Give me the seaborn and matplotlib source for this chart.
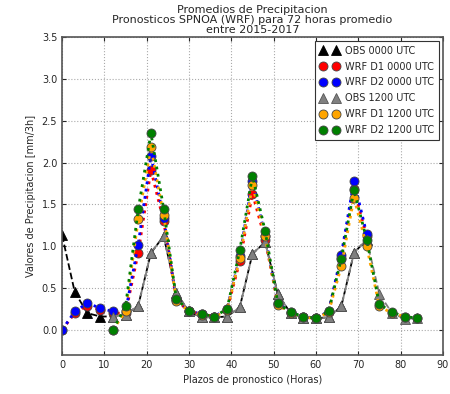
import numpy as np
import pandas as pd
import matplotlib
matplotlib.use("Agg")
import matplotlib.pyplot as plt
import seaborn as sns

# forecast lead times (hours)
horas_00 = list(range(0, 73, 3))
horas_12 = list(range(12, 85, 3))

obs_00 = [1.13, 0.45, 0.20, 0.16, 0.16, 0.18, 0.29, 0.92, 1.12, 0.44, 0.22, 0.15, 0.15,
          0.16, 0.27, 0.91, 1.05, 0.43, 0.20, 0.14, 0.14, 0.15, 0.28, 0.92, 1.08]
wrf_d1_00 = [0.00, 0.20, 0.29, 0.24, 0.20, 0.20, 0.92, 1.91, 1.30, 0.36, 0.22, 0.19, 0.16,
             0.24, 0.82, 1.63, 1.08, 0.31, 0.20, 0.16, 0.14, 0.21, 0.86, 1.68, 1.12]
wrf_d2_00 = [0.00, 0.22, 0.32, 0.26, 0.22, 0.22, 1.02, 2.08, 1.34, 0.37, 0.22, 0.19, 0.16,
             0.25, 0.88, 1.78, 1.12, 0.32, 0.21, 0.16, 0.14, 0.22, 0.90, 1.78, 1.15]
obs_12 = [0.16, 0.18, 0.29, 0.92, 1.12, 0.44, 0.22, 0.15, 0.15, 0.16, 0.27, 0.91, 1.05,
          0.43, 0.20, 0.14, 0.14, 0.15, 0.28, 0.92, 1.08, 0.43, 0.20, 0.13, 0.14]
wrf_d1_12 = [0.00, 0.22, 1.32, 2.18, 1.37, 0.35, 0.22, 0.18, 0.15, 0.24, 0.86, 1.73, 1.12,
             0.30, 0.20, 0.15, 0.14, 0.21, 0.76, 1.58, 1.00, 0.28, 0.20, 0.16, 0.14]
wrf_d2_12 = [0.00, 0.28, 1.44, 2.35, 1.45, 0.37, 0.23, 0.19, 0.16, 0.25, 0.95, 1.84, 1.18,
             0.32, 0.21, 0.16, 0.14, 0.22, 0.85, 1.67, 1.08, 0.31, 0.21, 0.16, 0.14]

sns.set_style("ticks")
plt.rcParams['font.family'] = ['DejaVu Sans']

fig = plt.figure(figsize=(4.5, 3.94), dpi=100)
ax = fig.add_axes([0.138, 0.099, 0.846, 0.807])

series = [
    ("OBS 0000 UTC", horas_00, obs_00, dict(color='black', marker='^', linestyle='--', mec='black')),
    ("WRF D1 0000 UTC", horas_00, wrf_d1_00, dict(color='red', marker='o', linestyle=':', mec='#444444')),
    ("WRF D2 0000 UTC", horas_00, wrf_d2_00, dict(color='blue', marker='o', linestyle=':', mec='#444444')),
    ("OBS 1200 UTC", horas_12, obs_12, dict(color='gray', marker='^', linestyle='--', mec='#555555')),
    ("WRF D1 1200 UTC", horas_12, wrf_d1_12, dict(color='orange', marker='o', linestyle=':', mec='#444444')),
    ("WRF D2 1200 UTC", horas_12, wrf_d2_12, dict(color='green', marker='o', linestyle=':', mec='#444444')),
]

for name, xs, ys, st in series:
    df = pd.DataFrame({'hora': xs, 'valor': ys})
    lw = 1.3 if 'OBS' in name else 2.0
    sns.lineplot(data=df, x='hora', y='valor', ax=ax, label=name, sort=False,
                 linewidth=lw, markersize=6.5, markeredgewidth=0.6, **st)

ax.set_xlim(0, 90)
ax.set_ylim(-0.3, 3.5)
ax.set_xticks(np.arange(0, 91, 10))
ax.set_yticks(np.arange(0, 3.51, 0.5))
ax.grid(True, linestyle=':', color='#aaaaaa', linewidth=0.8)
ax.tick_params(direction='in', top=True, right=True, labelsize=7, length=3)
for sp in ax.spines.values():
    sp.set_color('#555555')
    sp.set_linewidth(1.2)

ax.set_xlabel("Plazos de pronostico (Horas)", fontsize=7)
ax.set_ylabel("Valores de Precipitacion [mm/3h]", fontsize=7)
ax.set_title("Promedios de Precipitacion\nPronosticos SPNOA (WRF) para 72 horas promedio\nentre 2015-2017",
             fontsize=8, linespacing=1.0, pad=3)

leg = ax.legend(loc='upper right', numpoints=2, fontsize=7, fancybox=False,
                edgecolor='#333333', framealpha=1, handlelength=2.0,
                handletextpad=0.6, borderpad=0.5, labelspacing=0.6,
                borderaxespad=0.4)
leg.get_frame().set_linewidth(0.8)
for line in leg.get_lines():
    line.set_linestyle('')

fig.savefig("out.png", dpi=100)
